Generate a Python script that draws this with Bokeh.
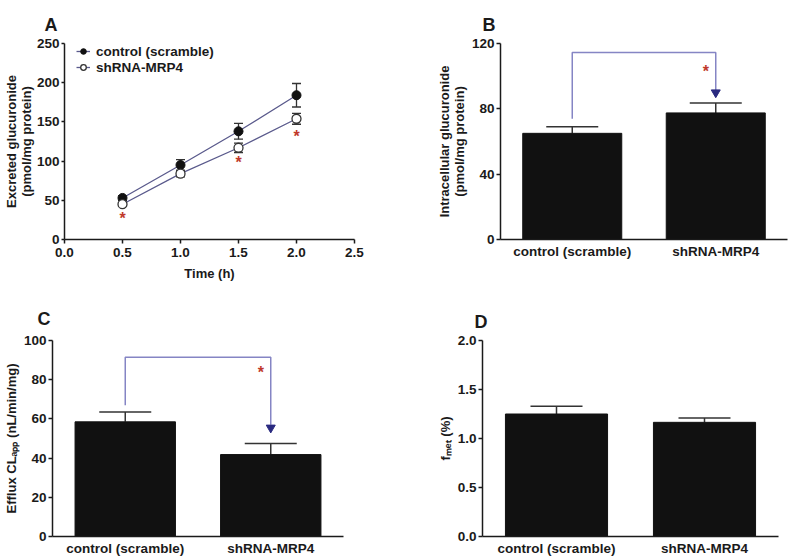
from bokeh.plotting import figure
from bokeh.models import (Range1d, FactorRange, ColumnDataSource, Whisker, TeeHead,
                          Legend, LegendItem, FixedTicker, NumeralTickFormatter)
from bokeh.layouts import column, row
from bokeh.core.properties import value
from bokeh.embed import file_html
from bokeh.resources import INLINE

FONT = "Liberation Sans"

# ---------------- data ----------------
# Panel A: excreted glucuronide vs time
time_h = [0.5, 1.0, 1.5, 2.0]
ctrl_mean = [53, 95, 138, 184]
ctrl_sem = [3, 7, 10, 15]
sh_mean = [45, 84, 117, 154]
sh_sem = [2, 4, 6, 7]
a_star_t = [0.5, 1.5, 2.0]
a_star_y = [31, 102, 135]

groups = ["control (scramble)", "shRNA-MRP4"]
# Panel B: intracellular glucuronide
b_mean = [65, 77.5]
b_sem = [4, 6]
b_bracket_y = [74, 114.5, 114.5, 91]
b_arrow_y = [90]
b_star_y = [105]
# Panel C: efflux CLapp
c_mean = [58.5, 41.8]
c_sem = [5, 5.7]
c_bracket_y = [67, 91.5, 91.5, 57]
c_arrow_y = [55.5]
c_star_y = [85]
# Panel D: fmet
d_mean = [1.25, 1.165]
d_sem = [0.08, 0.045]

BAR = "#111111"
AXC = "#1a1a1a"
LINE_C = "#5a5a8c"
BRACKET_C = "#8585c4"
HEAD_C = "#2a2a80"
STAR_C = "#c0392b"
FS = "13.5px"


def style(p, ylabel, xlabel=None):
    p.outline_line_color = None
    p.xgrid.grid_line_color = None
    p.ygrid.grid_line_color = None
    p.background_fill_color = "white"
    p.border_fill_color = "white"
    for ax in p.axis:
        ax.axis_line_width = 1.5
        ax.axis_line_color = AXC
        ax.major_tick_line_width = 1.5
        ax.major_tick_line_color = AXC
        ax.minor_tick_line_color = None
        ax.major_tick_in = 0
        ax.major_tick_out = 4
        ax.major_label_standoff = 2
        ax.major_label_text_font = FONT
        ax.major_label_text_font_style = "bold"
        ax.major_label_text_font_size = FS
        ax.major_label_text_color = AXC
        ax.axis_label_text_font = FONT
        ax.axis_label_text_font_style = "bold"
        ax.axis_label_text_font_size = "13px"
        ax.axis_label_text_color = AXC
        ax.axis_label_standoff = 2
    p.yaxis.axis_label = ylabel
    p.yaxis.axis_label_text_line_height = 1.0
    if xlabel:
        p.xaxis.axis_label = xlabel


def title_letter(p, letter, offset, standoff):
    p.title.text = letter
    p.title.text_font = FONT
    p.title.text_font_size = "18px"
    p.title.text_font_style = "bold"
    p.title.text_color = AXC
    p.title.align = "left"
    p.title.offset = offset
    p.title.standoff = standoff


def bar_panel(width, height, mb, yr, ticks, fmt, means, sems, ylabel):
    p = figure(width=width, height=height, x_range=FactorRange(factors=groups),
               y_range=Range1d(*yr), output_backend="svg", toolbar_location=None,
               min_border_left=mb[0], min_border_right=mb[1],
               min_border_top=mb[2], min_border_bottom=mb[3])
    src = ColumnDataSource(dict(x=groups, top=means,
                                upper=[m + s for m, s in zip(means, sems)]))
    p.vbar(x="x", top="top", width=0.69, source=src, fill_color=BAR, line_color=BAR)
    p.add_layout(Whisker(base="x", lower="top", upper="upper", source=src,
                         dimension="height", line_color="#333333", line_width=1.5,
                         upper_head=TeeHead(size=52, line_color="#333333", line_width=1.5),
                         lower_head=None))
    style(p, ylabel)
    p.yaxis.ticker = FixedTicker(ticks=ticks)
    if fmt:
        p.yaxis.formatter = NumeralTickFormatter(format=fmt)
    p.xaxis.major_tick_line_color = None
    p.xaxis.major_tick_out = 0
    p.xaxis.major_label_standoff = 4
    return p


def bracket(p, ys, arrow_y, star_y):
    p.line(x=[groups[0], groups[0], groups[1], groups[1]], y=ys,
           line_color=BRACKET_C, line_width=1.5)
    p.scatter(x=[groups[1]], y=arrow_y, marker="inverted_triangle", size=9,
              fill_color=HEAD_C, line_color=HEAD_C)
    p.text(x=[groups[1]], y=star_y, text=["*"], x_offset=-10, y_offset=3,
           text_font=value(FONT), text_font_size=value("16px"), text_font_style="bold",
           text_color=STAR_C, text_align="center", text_baseline="middle")


# ---------------- Panel A ----------------
pA = figure(width=400, height=290, x_range=Range1d(0, 2.5), y_range=Range1d(0, 250),
            output_backend="svg", toolbar_location=None,
            min_border_left=63, min_border_right=46, min_border_top=43, min_border_bottom=51)
srcC = ColumnDataSource(dict(t=time_h, m=ctrl_mean,
                             lo=[m - s for m, s in zip(ctrl_mean, ctrl_sem)],
                             hi=[m + s for m, s in zip(ctrl_mean, ctrl_sem)]))
srcS = ColumnDataSource(dict(t=time_h, m=sh_mean,
                             lo=[m - s for m, s in zip(sh_mean, sh_sem)],
                             hi=[m + s for m, s in zip(sh_mean, sh_sem)]))
lC = pA.line("t", "m", source=srcC, line_color=LINE_C, line_width=1.3)
lS = pA.line("t", "m", source=srcS, line_color=LINE_C, line_width=1.3)
for s in (srcC, srcS):
    pA.add_layout(Whisker(base="t", lower="lo", upper="hi", source=s, dimension="height",
                          line_color="#333333", line_width=1.3,
                          upper_head=TeeHead(size=9, line_color="#333333", line_width=1.3),
                          lower_head=TeeHead(size=9, line_color="#333333", line_width=1.3)))
mC = pA.scatter("t", "m", source=srcC, size=9, fill_color="#111111", line_color="#111111")
mS = pA.scatter("t", "m", source=srcS, size=9, fill_color="white", line_color="#333333",
                line_width=1.3)
pA.text(x=a_star_t, y=a_star_y, text=["*"] * len(a_star_t), y_offset=3,
        text_font=value(FONT), text_font_size=value("16px"), text_font_style="bold",
        text_color=STAR_C, text_align="center", text_baseline="middle")
style(pA, "Excreted glucuronide\n(pmol/mg protein)", "Time (h)")
title_letter(pA, "A", -20, 18)
pA.yaxis.axis_label_standoff = 0
pA.yaxis.major_tick_out = 3
pA.xaxis.ticker = FixedTicker(ticks=[0, 0.5, 1.0, 1.5, 2.0, 2.5])
pA.xaxis.formatter = NumeralTickFormatter(format="0.0")
pA.yaxis.ticker = FixedTicker(ticks=[0, 50, 100, 150, 200, 250])
pA.xaxis.major_label_standoff = 4
pA.xaxis.axis_label_standoff = 6
legend = Legend(items=[LegendItem(label="control (scramble)", renderers=[lC, mC]),
                       LegendItem(label="shRNA-MRP4", renderers=[lS, mS])],
                location=(12, 164), glyph_width=14, glyph_height=16, label_height=16,
                spacing=0, padding=0, margin=0, label_standoff=6,
                border_line_color=None, background_fill_alpha=0,
                label_text_font=FONT, label_text_font_style="bold",
                label_text_font_size=FS, label_text_color=AXC)
pA.add_layout(legend)

# ---------------- Panel B ----------------
pB = bar_panel(400, 290, (100, 13, 43, 51), (0, 120), [0, 40, 80, 120], None,
               b_mean, b_sem, "Intracellular glucuronide\n(pmol/mg protein)")
title_letter(pB, "B", -18, 18)
bracket(pB, b_bracket_y, b_arrow_y, b_star_y)

# ---------------- Panel C ----------------
pC = bar_panel(400, 268, (50, 57, 50, 22), (0, 100), [0, 20, 40, 60, 80, 100], None,
               c_mean, c_sem, "Efflux CL\u2090\u209a\u209a (nL/min/mg)")
title_letter(pC, "C", -15, 23)
bracket(pC, c_bracket_y, c_arrow_y, c_star_y)

# ---------------- Panel D ----------------
pD = bar_panel(400, 268, (82, 22, 50, 22), (0, 2.0), [0, 0.5, 1.0, 1.5, 2.0], "0.0",
               d_mean, d_sem, "f\u2098\u2091\u209c (%)")
title_letter(pD, "D", -8, 17)

layout = column(row(pA, pB), row(pC, pD))
open("out.html", "w").write(file_html(layout, INLINE))
